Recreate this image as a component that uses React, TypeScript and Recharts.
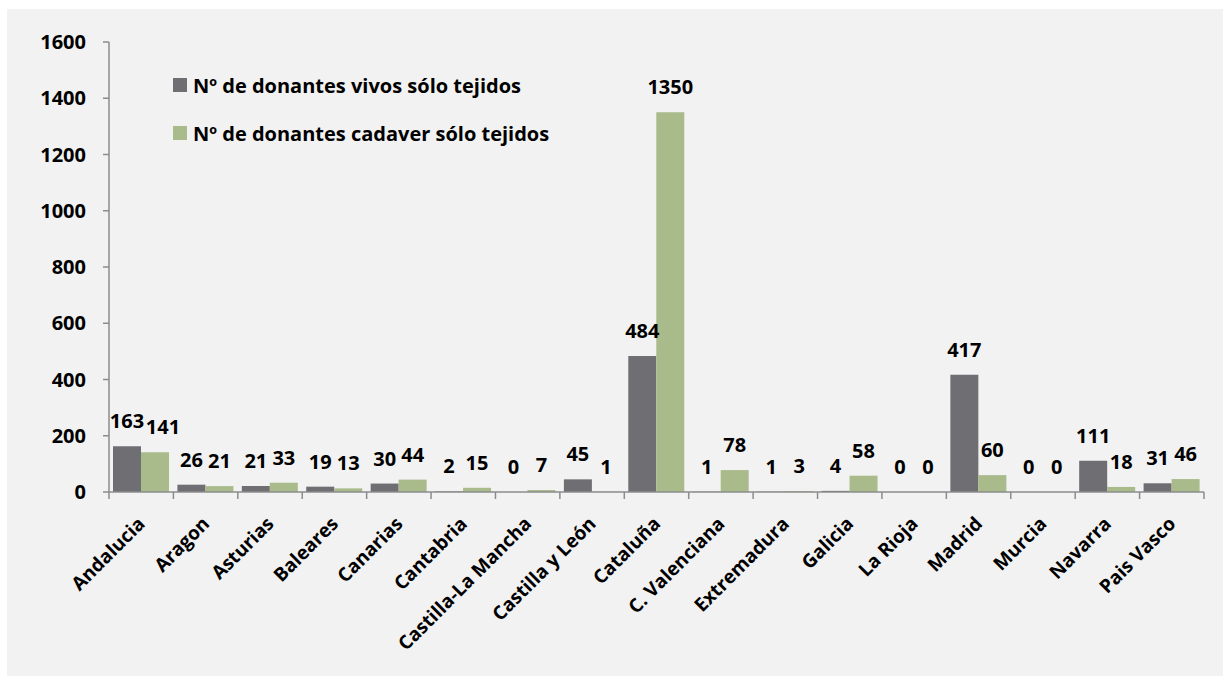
import { Bar, BarChart, LabelList, XAxis, YAxis } from "recharts";

const regions = [
  "Andalucia",
  "Aragon",
  "Asturias",
  "Baleares",
  "Canarias",
  "Cantabria",
  "Castilla-La Mancha",
  "Castilla y León",
  "Cataluña",
  "C. Valenciana",
  "Extremadura",
  "Galicia",
  "La Rioja",
  "Madrid",
  "Murcia",
  "Navarra",
  "Pais Vasco",
];
const vivos = [163, 26, 21, 19, 30, 2, 0, 45, 484, 1, 1, 4, 0, 417, 0, 111, 31];
const cadaver = [141, 21, 33, 13, 44, 15, 7, 1, 1350, 78, 3, 58, 0, 60, 0, 18, 46];
const yTicks = [0, 200, 400, 600, 800, 1000, 1200, 1400, 1600];

const seriesVivos = "Nº de donantes vivos sólo tejidos";
const seriesCadaver = "Nº de donantes cadaver sólo tejidos";

const data = regions.map((name, i) => ({ name, vivos: vivos[i], cadaver: cadaver[i] }));

const W = 1216;
const H = 667;
const margin = { top: 33, right: 19, left: 0, bottom: 34 };
const yAxisW = 102;
const catW = (W - margin.left - margin.right - yAxisW) / regions.length;

const AXIS = "#8c8c8c";
const DARK = "#6f6e73";
const GREEN = "#a9ba8b";
const FONT = "'Open Sans', 'Noto Sans', sans-serif";
const FS = 19;

function RegionTick(props: any) {
  const { x, y, payload, index } = props;
  const half = catW / 2;
  const tx = x + 5;
  const ty = y + 33;
  return (
    <g>
      <line x1={x - half} x2={x - half} y1={y} y2={y + 7} stroke={AXIS} strokeWidth={1.5} />
      {index === regions.length - 1 && (
        <line x1={x + half} x2={x + half} y1={y} y2={y + 7} stroke={AXIS} strokeWidth={1.5} />
      )}
      <text
        x={tx}
        y={ty}
        transform={`rotate(-45, ${tx}, ${ty})`}
        textAnchor="end"
        fontSize={FS}
        fontWeight={700}
        fill="#000"
        fontFamily={FONT}
      >
        {payload.value}
      </text>
    </g>
  );
}

// value label above a bar; the first green label is nudged right as in the original
function ValueLabel(props: any) {
  const { x, y, width, value, index, shiftFirst } = props;
  const dx = shiftFirst && index === 0 ? 8 : 0;
  return (
    <text
      x={x + width / 2 + dx}
      y={y - 18}
      textAnchor="middle"
      fontSize={FS + 1}
      fontWeight={700}
      fill="#000"
      fontFamily={FONT}
    >
      {value}
    </text>
  );
}

function LegendBox() {
  const items = [
    { label: seriesVivos, color: DARK },
    { label: seriesCadaver, color: GREEN },
  ];
  return (
    <div style={{ position: "absolute", left: 166, top: 66, fontFamily: FONT }}>
      {items.map((it) => (
        <div key={it.label} style={{ display: "flex", alignItems: "center", height: 20, marginBottom: 28 }}>
          <span style={{ width: 14, height: 14, background: it.color, display: "inline-block" }} />
          <span style={{ marginLeft: 6, fontSize: 20, fontWeight: 700, color: "#000", whiteSpace: "nowrap" }}>
            {it.label}
          </span>
        </div>
      ))}
    </div>
  );
}

export default function App() {
  return (
    <div
      style={{
        position: "absolute",
        left: 7,
        top: 9,
        width: W,
        height: H,
        background: "#f2f2f2",
        fontFamily: FONT,
        fontWeight: 700,
      }}
    >
      <BarChart width={W} height={H} data={data} margin={margin} barCategoryGap={4} barGap={0}>
        <XAxis
          dataKey="name"
          interval={0}
          tickLine={false}
          tickSize={0}
          tickMargin={0}
          height={150}
          axisLine={{ stroke: AXIS, strokeWidth: 1.5 }}
          tick={<RegionTick />}
        />
        <YAxis
          width={yAxisW}
          domain={[0, 1600]}
          ticks={yTicks}
          interval={0}
          tickSize={6}
          tickMargin={17}
          axisLine={{ stroke: AXIS, strokeWidth: 1.5 }}
          tickLine={{ stroke: AXIS, strokeWidth: 1.5 }}
          tick={{ fill: "#000", fontSize: FS + 1, fontWeight: 700, fontFamily: FONT }}
        />
        <Bar dataKey="vivos" name={seriesVivos} fill={DARK} minPointSize={0.01} isAnimationActive={false}>
          <LabelList dataKey="vivos" content={(p: any) => <ValueLabel {...p} />} />
        </Bar>
        <Bar dataKey="cadaver" name={seriesCadaver} fill={GREEN} minPointSize={0.01} isAnimationActive={false}>
          <LabelList dataKey="cadaver" content={(p: any) => <ValueLabel {...p} shiftFirst />} />
        </Bar>
      </BarChart>
      <LegendBox />
    </div>
  );
}
